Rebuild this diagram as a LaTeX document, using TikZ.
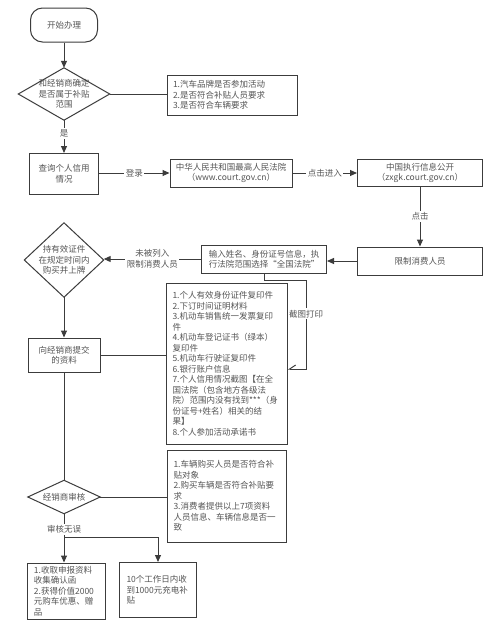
\documentclass[tikz,border=0pt]{standalone}
\usepackage{fontspec}
\setmainfont{Noto Sans CJK SC}
\usetikzlibrary{arrows.meta}
\definecolor{ln}{HTML}{3C3C3C}
\definecolor{tx}{HTML}{555555}
\begin{document}
\begin{tikzpicture}[x=1pt,y=-1pt,
 font=\fontsize{8.5}{10.5}\selectfont,
 every node/.style={text=tx},
 box/.style={draw=ln,line width=1pt,fill=white,inner sep=0pt,align=center},
 lbox/.style={draw=ln,line width=1pt,fill=white,inner ysep=0pt,inner xsep=6pt,align=left},
 dia/.style={inner sep=0pt,align=center},
 con/.style={draw=ln,line width=1pt},
 arr/.style={con,-{Triangle[length=7pt,width=6pt]}},
 barb/.style={con,-{Straight Barb[harpoon,swap,length=6pt,width=8pt]}},
 lab/.style={fill=white,inner sep=1.5pt}]
\useasboundingbox[fill=white] (0,0) rectangle (500,635);

\node[box,minimum width=67pt,minimum height=34pt,rounded corners=12pt] (start) at (64,25) {开始办理};
\node[dia,minimum width=91pt,minimum height=52pt] (d1) at (64,94) {和经销商确定\\是否属于补贴\\范围};
\draw[con] (d1.north)--(d1.east)--(d1.south)--(d1.west)--cycle;
\node[lbox,text width=118pt,minimum height=40pt] (c1) at (232,95) {1.汽车品牌是否参加活动\\2.是否符合补贴人员要求\\3.是否符合车辆要求};
\node[box,minimum width=69pt,minimum height=41pt] (query) at (64,174) {查询个人信用\\情况};
\node[box,minimum width=122pt,minimum height=28pt] (court) at (231,173) {中华人民共和国最高人民法院\\（www.court.gov.cn）};
\node[box,minimum width=125pt,minimum height=27pt] (zxgk) at (420,173) {中国执行信息公开\\（zxgk.court.gov.cn）};
\node[box,minimum width=125pt,minimum height=28pt] (limit) at (420,261) {限制消费人员};
\node[box,minimum width=125pt,minimum height=28pt] (input) at (264,259) {输入姓名、身份证号信息，执\\行法院范围选择“全国法院”};
\node[dia,minimum width=79pt,minimum height=74pt] (d2) at (64,260) {持有效证件\\在规定时间内\\购买并上牌};
\draw[con] (d2.north)--(d2.east)--(d2.south)--(d2.west)--cycle;
\node[box,minimum width=72pt,minimum height=34pt] (submit) at (64,355) {向经销商提交\\的资料};
\node[lbox,text width=109pt,minimum height=161pt] (mat) at (227,364) {1.个人有效身份证件复印件\\2.下订时间证明材料\\3.机动车销售统一发票复印\\件\\4.机动车登记证书（绿本）\\复印件\\5.机动车行驶证复印件\\6.银行账户信息\\7.个人信用情况截图【在全\\国法院（包含地方各级法\\院）范围内没有找到***（身\\份证号+姓名）相关的结\\果】\\8.个人参加活动承诺书};
\node[dia,minimum width=72pt,minimum height=33pt] (d3) at (64,497) {经销商审核};
\draw[con] (d3.north)--(d3.east)--(d3.south)--(d3.west)--cycle;
\node[lbox,text width=107pt,minimum height=92pt] (chk) at (227,496) {1.车辆购买人员是否符合补\\贴对象\\2.购买车辆是否符合补贴要\\求\\3.消费者提供以上7项资料\\人员信息、车辆信息是否一\\致};
\node[lbox,inner xsep=7pt,text width=64pt,minimum height=56pt] (r1) at (66,591) {1.收取申报资料\\收集确认函\\2.获得价值2000\\元购车优惠、赠\\品};
\node[lbox,inner xsep=7pt,text width=63pt,minimum height=55pt] (r2) at (158,590) {10个工作日内收\\到1000元充电补\\贴};

\draw[arr] (start) -- (d1);
\draw[con] (d1.east) -- (c1.west |- d1.east);
\draw[arr] (d1.south) -- node[lab,pos=0.4] {是} (query.north);
\draw[arr] (query.east |- court.west) -- node[lab] {登录} (court.west);
\draw[arr] (court.east) -- node[lab] {点击进入} (zxgk.west);
\draw[arr] (zxgk.south) -- node[lab] {点击} (limit.north);
\draw[arr] (limit.west) -- (input.east |- limit.west);
\draw[arr] (input.west) -- node[lab,align=center] {未被列入\\限制消费人员} (d2.east |- input.west);
\draw[arr] (d2.south) -- (submit.north);
\draw[con] (submit.east) -- (mat.west |- submit.east);
\coordinate (k1) at (306,280);
\coordinate (k2) at (306,369);
\draw[barb] (input.south) -- (input.south |- k1) -- (k1) -- node[lab,pos=0.38] {截图打印} (k2) -- (k2 -| mat.east);
\draw[con] (submit.south) -- (d3.north);
\draw[con] (d3.east) -- (chk.west |- d3.east);
\draw[arr] (d3.south) -- node[lab,pos=0.32] {审核无误} (d3.south |- r1.north);
\coordinate (br) at (64,537);
\draw[arr] (br) -| (r2.north);
\end{tikzpicture}
\end{document}
